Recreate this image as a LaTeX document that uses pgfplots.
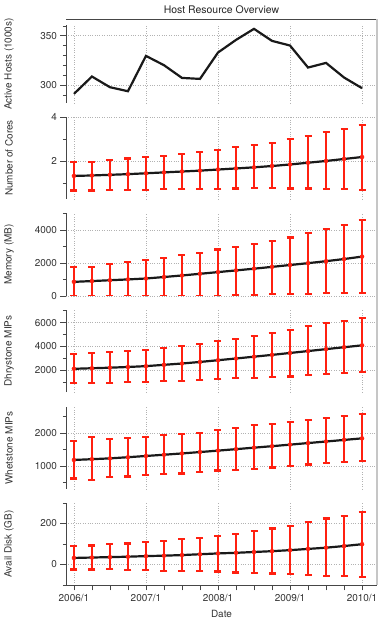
\documentclass[border=0pt]{standalone}
\usepackage{fontspec}
\setmainfont{TeX Gyre Heros}
\usepackage{pgfplots}
\usepackage{pgfplotstable}
\pgfplotsset{compat=1.18}
\definecolor{barred}{RGB}{255,32,16}
\definecolor{spine}{RGB}{70,70,70}

% quarterly samples, x = 0 (2006/1) ... 16 (2010/1)
\pgfplotstableread{
x y
0 291.2
1 308.8
2 298.0
3 293.9
4 329.7
5 320.3
6 307.4
7 306.4
8 333.1
9 345.9
10 357.1
11 344.9
12 340.2
13 317.9
14 322.6
15 307.8
16 297.0
}\hosts

\pgfplotstableread{
x y lo hi
0 1.32 0.66 1.94
1 1.34 0.66 1.97
2 1.37 0.68 2.05
3 1.40 0.68 2.11
4 1.44 0.69 2.17
5 1.48 0.71 2.24
6 1.52 0.72 2.30
7 1.56 0.72 2.41
8 1.61 0.74 2.51
9 1.66 0.75 2.62
10 1.71 0.77 2.74
11 1.77 0.78 2.83
12 1.84 0.75 2.99
13 1.92 0.75 3.14
14 2.00 0.74 3.31
15 2.09 0.72 3.47
16 2.18 0.69 3.65
}\cores

\pgfplotstableread{
x y lo hi
0 857 0 1735
1 905 20 1755
2 955 0 1939
3 1005 20 2041
4 1061 0 2204
5 1150 0 2306
6 1245 0 2470
7 1345 20 2612
8 1449 0 2816
9 1550 40 2980
10 1655 80 3163
11 1765 120 3327
12 1878 120 3551
13 1990 100 3837
14 2110 160 4082
15 2240 180 4306
16 2388 200 4612
}\memory

\pgfplotstableread{
x y lo hi
0 2138 979 3380
1 2185 924 3490
2 2230 979 3545
3 2290 1007 3628
4 2360 1034 3711
5 2470 1090 3876
6 2580 1117 4014
7 2710 1227 4207
8 2855 1283 4456
9 3000 1338 4649
10 3150 1393 4897
11 3300 1448 5145
12 3460 1503 5394
13 3620 1641 5697
14 3780 1697 5945
15 3940 1779 6111
16 4097 1862 6414
}\dhry

\pgfplotstableread{
x y lo hi
0 1192 626 1768
1 1215 576 1879
2 1240 667 1818
3 1275 687 1848
4 1313 727 1889
5 1350 758 1949
6 1390 778 1990
7 1432 838 2020
8 1475 869 2101
9 1520 899 2151
10 1565 919 2242
11 1610 960 2283
12 1657 1000 2343
13 1705 1051 2394
14 1752 1091 2465
15 1800 1121 2515
16 1848 1162 2576
}\whet

\pgfplotstableread{
x y lo hi
0 32 -24 91
1 34 -24 93
2 36 -23 101
3 38 -26 102
4 41 -28 109
5 43 -31 115
6 46 -31 124
7 50 -33 130
8 54 -34 138
9 57 -39 150
10 61 -41 163
11 65 -44 176
12 70 -47 189
13 76 -52 207
14 82 -55 224
15 90 -55 237
16 99 -62 257
}\disk

\pgfplotsset{
  panel/.style={
    scale only axis, width=311bp,
    xmin=-0.44, xmax=16.83,
    axis x line*=bottom, axis y line*=left,
    axis line style={-, draw=spine, line width=0.8bp},
    x axis line style={draw=none},
    xtick={0,4,8,12,16}, xticklabels={},
    x tick style={draw=none},
    y tick style={draw=spine, line width=0.8bp},
    grid=major,
    major grid style={gray!60, dotted, line width=0.8bp},
    tick align=outside,
    major tick length=5.5bp, minor tick length=3bp,
    tick label style={font=\fontsize{10}{12}\selectfont, text=black!80},
    /pgf/number format/assume math mode=true,
    /pgf/number format/1000 sep={},
    ylabel style={at={(axis description cs:-0.1833,0.5)}, anchor=center,
      font=\fontsize{10}{12}\selectfont, text=black!80},
  },
  ebars/.style={only marks, mark=none, barred,
    error bars/y dir=both, error bars/y explicit,
    error bars/error bar style={line width=2.2bp, barred},
    error bars/error mark options={rotate=90, mark size=3.5bp,
      line width=2.2bp, barred}},
  mean/.style={black!90, line width=2.2bp, mark=none},
}

\newcommand{\panelplots}[1]{%
  \addplot[ebars] table[x=x, y=y,
    y error plus expr=\thisrow{hi}-\thisrow{y},
    y error minus expr=\thisrow{y}-\thisrow{lo}] {#1};
  \addplot[mean] table[x=x, y=y] {#1};
}

\begin{document}
\begin{tikzpicture}
\useasboundingbox (0,0) rectangle (390bp,625bp);

\begin{axis}[panel, anchor=north west, at={(66bp,600bp)}, height=78bp,
    ymin=282, ymax=361, ytick={300,350},
    minor ytick={290,310,320,330,340,360},
    ylabel={Active Hosts (1000s)},
    title={Host Resource Overview},
    title style={at={(axis description cs:0.5,1)}, anchor=center,
      yshift=9.5bp, font=\fontsize{10.5}{12}\selectfont, text=black!85}]
  \addplot[mean] table[x=x, y=y] {\hosts};
\end{axis}

\begin{axis}[panel, anchor=north west, at={(66bp,508bp)}, height=82bp,
    ymin=0.27, ymax=4, ytick={2,4}, minor ytick={1,3},
    ylabel={Number of Cores}]
  \panelplots{\cores}
\end{axis}

\begin{axis}[panel, anchor=north west, at={(66bp,412bp)}, height=83bp,
    ymin=0, ymax=5030, ytick={0,2000,4000}, minor ytick={1000,3000,5000},
    ylabel={Memory (MB)}]
  \panelplots{\memory}
\end{axis}

\begin{axis}[panel, anchor=north west, at={(66bp,315bp)}, height=82bp,
    ymin=200, ymax=7050, ytick={2000,4000,6000},
    minor ytick={1000,3000,5000,7000},
    ylabel={Dhrystone MIPs}]
  \panelplots{\dhry}
\end{axis}

\begin{axis}[panel, anchor=north west, at={(66bp,218bp)}, height=82bp,
    ymin=310, ymax=2800, ytick={1000,2000}, minor ytick={500,1500,2500},
    ylabel={Whetstone MIPs}]
  \panelplots{\whet}
\end{axis}

\begin{axis}[panel, anchor=north west, at={(66bp,122bp)}, height=82bp,
    ymin=-100, ymax=300, ytick={0,200}, minor ytick={-100,100,300},
    ylabel={Avail Disk (GB)},
    x axis line style={draw=spine},
    x tick style={draw=spine, line width=0.8bp},
    xticklabels={2006/1,2007/1,2008/1,2009/1,2010/1},
    extra x ticks={1,2,3,5,6,7,9,10,11,13,14,15},
    extra x tick labels={},
    extra x tick style={grid=none},
    xlabel={Date},
    xlabel style={at={(axis description cs:0.5,0)}, anchor=center,
      yshift=-28.5bp, font=\fontsize{10}{12}\selectfont, text=black!80}]
  \panelplots{\disk}
\end{axis}

% outer frame: top edge and right edge
\draw[spine, line width=0.8bp] (66bp,606bp) -- (377bp,606bp);
\draw[gray!45, line width=1.8bp] (377bp,606bp) -- (377bp,40bp);
\end{tikzpicture}
\end{document}
